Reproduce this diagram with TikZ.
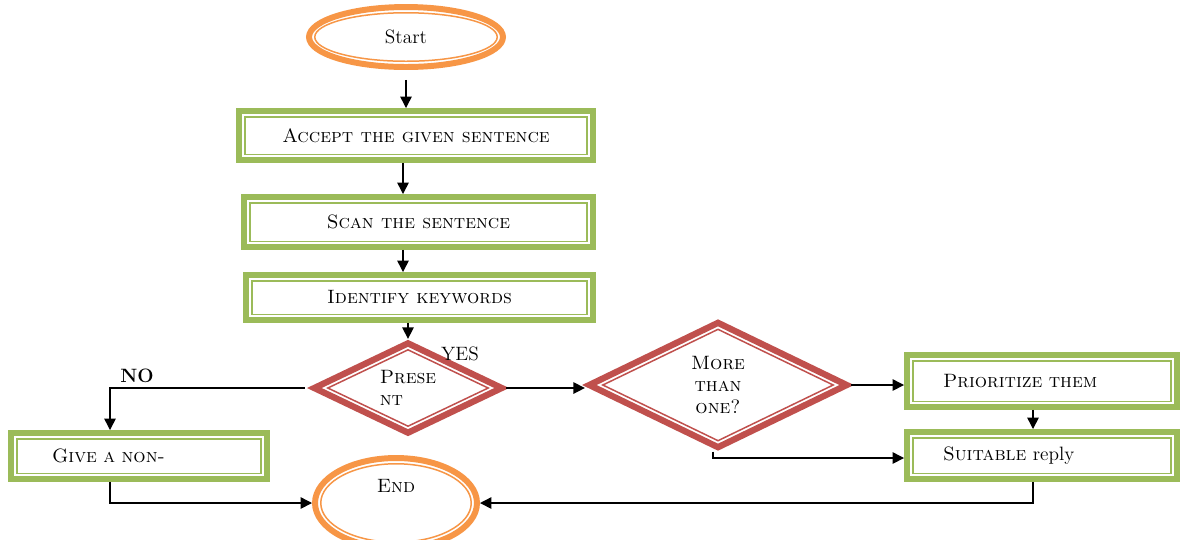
\documentclass[tikz,border=0pt]{standalone}
\usepackage{fontspec}
\usepackage{tikz}
\usetikzlibrary{arrows.meta,positioning,calc,shapes.geometric}
\definecolor{leaf}{RGB}{155,187,89}
\definecolor{amber}{RGB}{247,150,70}
\definecolor{brick}{RGB}{192,80,77}

\begin{document}
\begin{tikzpicture}[x=0.02cm,y=-0.02cm,
      font=\fontsize{11}{12.5}\selectfont,
      procbox/.style={draw=leaf,line width=3.4pt,fill=white,inner sep=0pt,
                      path picture={\draw[leaf,line width=0.85pt]
                        ([shift={(0.115cm,0.115cm)}]path picture bounding box.south west) rectangle
                        ([shift={(-0.115cm,-0.115cm)}]path picture bounding box.north east);}},
      termoval/.style={ellipse,draw=amber,line width=3.4pt,fill=white,inner sep=0pt,
                      path picture={\draw[amber,line width=0.85pt]
                        let \p1=(path picture bounding box.north east),\p2=(path picture bounding box.center) in
                        (\p2) ellipse [x radius=\x1-\x2-0.115cm,y radius=\y1-\y2-0.115cm];}},
      decision/.style={diamond,draw=brick,line width=3.6pt,fill=white,inner sep=0pt,
                      path picture={\draw[brick,line width=0.85pt]
                        ([yshift=-0.13cm]path picture bounding box.north) --
                        ([xshift=-0.27cm]path picture bounding box.east) --
                        ([yshift=0.13cm]path picture bounding box.south) --
                        ([xshift=0.27cm]path picture bounding box.west) -- cycle;}},
      ar/.style={-{Triangle[length=2.3mm,width=2.3mm]},line width=0.8pt,color=black}]
      \useasboundingbox (0,0) rectangle (1182,539);
      % main column
      \node[termoval,minimum width=3.88cm,minimum height=1.2cm] (start) at (406,37) {Start};
      \node[procbox,minimum width=7.08cm,minimum height=0.98cm] (accept) at (416,135.5) {\textsc{Accept the given sentence}};
      \node[procbox,minimum width=6.98cm,minimum height=1cm] (scan) at (418.5,222) {\textsc{Scan the sentence}};
      \node[procbox,minimum width=6.94cm,minimum height=0.9cm] (ident) at (419.5,297.5) {\textsc{Identify keywords}};
      \node[decision,minimum width=3.8cm,minimum height=1.84cm,align=left] (present) at (408,388) {\textsc{Prese}\\\textsc{nt}};
      \node[decision,minimum width=5.2cm,minimum height=2.54cm,align=center] (more) at (718,385) {\textsc{More}\\\textsc{than}\\\textsc{one?}};
      % right branch
      \node[procbox,minimum width=5.4cm,minimum height=1.04cm,text width=3.96cm,align=left,inner xsep=0.72cm] (prior) at (1042,381) {\textsc{Prioritize them}};
      \node[procbox,minimum width=5.4cm,minimum height=0.94cm,text width=3.96cm,align=left,inner xsep=0.72cm] (suit) at (1042,455.5) {\textsc{Suitable} reply};
      % left branch
      \node[procbox,minimum width=5.12cm,minimum height=0.92cm,text width=3.48cm,align=left,inner xsep=0.82cm] (give) at (139,456) {\textsc{Give a non-}};
      \node[termoval,minimum width=3.24cm,minimum height=1.8cm,text depth=0.7cm] (end) at (396,503) {\textsc{End}};
      \node (no) at (137,376) {\textbf{NO}};
      \node (yes) at (460,354) {YES};
      \draw[ar,shorten <=0.2cm] (start.south) -- (start.south |- accept.north);
      \draw[ar] ([xshift=-0.26cm]accept.south) -- ([xshift=-0.26cm]accept.south |- scan.north);
      \draw[ar] ([xshift=-0.31cm]scan.south) -- ([xshift=-0.31cm]scan.south |- ident.north);
      \draw[ar] (ident.south -| present.north) -- (present.north);
      \draw[ar,shorten <=0.1cm] (present.west) -| ([xshift=-0.58cm]give.north);
      \draw[ar] ([xshift=-0.58cm]give.south) |- (end.west);
      \draw[ar] (present.east) -- (present.east -| more.west);
      \draw[ar] (more.east) -- (more.east -| prior.west);
      \draw[ar] ([xshift=-0.1cm]more.south) |- ([yshift=-0.05cm]suit.west);
      \draw[ar] ([xshift=-0.18cm]prior.south) -- ([xshift=-0.18cm]prior.south |- suit.north);
      \draw[ar] ([xshift=-0.18cm]suit.south) |- (end.east);
    \end{tikzpicture}
\end{document}
